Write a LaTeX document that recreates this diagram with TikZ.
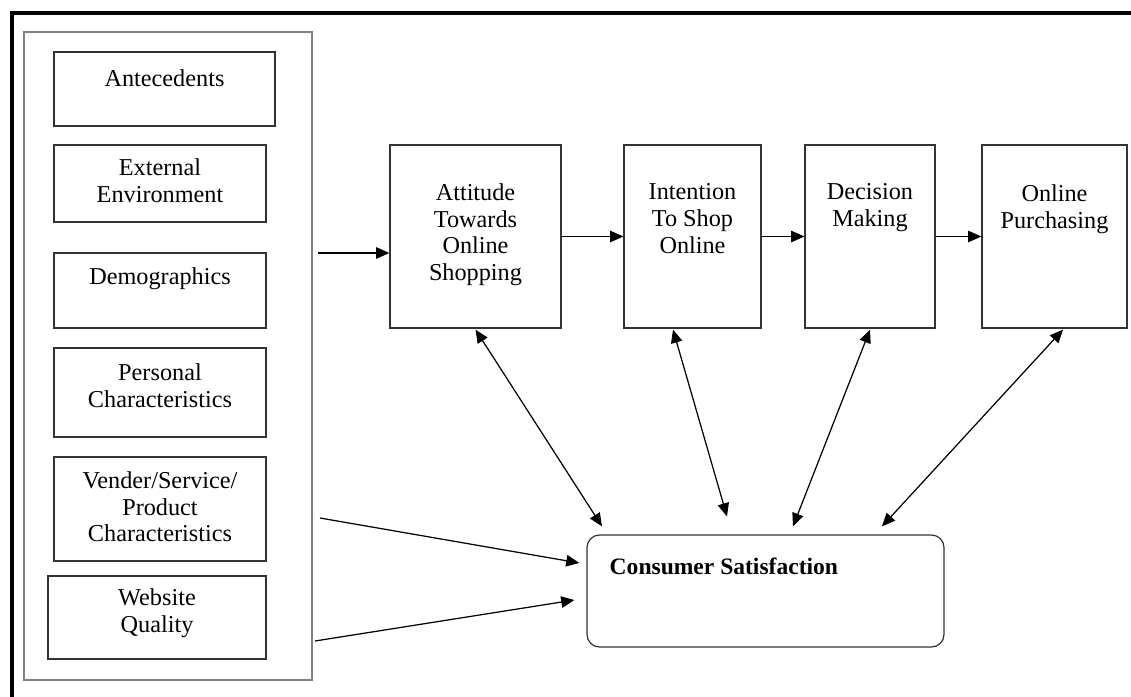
\documentclass[tikz,border=0pt]{standalone}
\usepackage{fontspec}
\setmainfont{Liberation Serif}
\usetikzlibrary{positioning,arrows.meta}

\tikzset{
  box/.style={draw=black!80, line width=0.7pt, inner sep=0pt},
  txt/.style={font=\fontsize{13.8}{15.2}\selectfont, align=center, inner sep=0pt},
  arr/.style={line width=0.7pt, -{Triangle[length=7.5pt,width=6.5pt]}},
  darr/.style={line width=0.7pt, {Triangle[length=7.5pt,width=6.5pt]}-{Triangle[length=7.5pt,width=6.5pt]}}
}

\begin{document}
\begin{tikzpicture}

        \useasboundingbox (0,0) rectangle (22.62,-13.94);

        %Frame
        \draw [line width=2.8pt] (0.24,-13.94) -- (0.24,-0.26) -- (22.62,-0.26);

        %Factors
        \node [box, draw=gray, line width=0.6pt, minimum width=5.76cm, minimum height=12.96cm] (factors) at (3.36,-7.12) {};
        \node [box, minimum width=4.42cm, minimum height=1.48cm] (ante) at (3.29,-1.78) {};
        \node [txt, below=0.36cm of ante.north] (ante-t) {Antecedents};
        \node [box, minimum width=4.24cm, minimum height=1.54cm] (env) at (3.2,-3.67) {};
        \node [txt, below=0.28cm of env.north] (env-t) {External\\Environment};
        \node [box, minimum width=4.24cm, minimum height=1.5cm] (demo) at (3.2,-5.81) {};
        \node [txt, below=0.3cm of demo.north] (demo-t) {Demographics};
        \node [box, minimum width=4.24cm, minimum height=1.78cm] (pers) at (3.2,-7.85) {};
        \node [txt, below=0.32cm of pers.north] (pers-t) {Personal\\Characteristics};
        \node [box, minimum width=4.24cm, minimum height=2.08cm] (vend) at (3.2,-10.18) {};
        \node [txt, below=0.3cm of vend.north] (vend-t) {Vender/Service/\\Product\\Characteristics};
        \node [box, minimum width=4.36cm, minimum height=1.66cm] (web) at (3.14,-12.35) {};
        \node [txt, below=0.26cm of web.north] (web-t) {Website\\Quality};

        %Stages
        \node [box, minimum width=3.42cm, minimum height=3.66cm] (att) at (9.51,-4.73) {};
        \node [txt, below=0.78cm of att.north] (att-t) {Attitude\\Towards\\Online\\Shopping};
        \node [box, minimum width=2.74cm, minimum height=3.66cm] (int) at (13.85,-4.73) {};
        \node [txt, below=0.78cm of int.north] (int-t) {Intention\\To Shop\\Online};
        \node [box, minimum width=2.6cm, minimum height=3.66cm] (dec) at (17.4,-4.73) {};
        \node [txt, below=0.78cm of dec.north] (dec-t) {Decision\\Making};
        \node [box, minimum width=2.9cm, minimum height=3.66cm] (pur) at (21.09,-4.73) {};
        \node [txt, below=0.8cm of pur.north] (pur-t) {Online\\Purchasing};

        %Consumer satisfaction
        \node [box, rounded corners=0.25cm, minimum width=7.14cm, minimum height=2.24cm] (cs) at (15.31,-11.82) {};
        \node [txt, font=\fontsize{13.4}{15}\selectfont\bfseries, below right=0.46cm and 0.46cm of cs.north west] (cs-t) {Consumer Satisfaction};

        %Arrows
        \coordinate (in1) at (6.36,-5.06);
        \coordinate (in2) at (6.4,-10.36);
        \coordinate (in3) at (6.3,-12.82);
        \draw [arr] (in1) -- (in1 -| att.west);
        \draw [arr] (att) -- (int);
        \draw [arr] (int) -- (dec);
        \draw [arr] (dec) -- (pur);
        \draw [arr] (in2) -- ([shift={(-0.14,0.56)}]cs.west);
        \draw [arr] (in3) -- ([shift={(-0.24,-0.18)}]cs.west);

        %Two way arrows
        \draw [darr] ([yshift=-0.02cm]att.south) -- ([shift={(-3.27,0.16)}]cs.north);
        \draw [darr] ([shift={(-0.39,-0.02)}]int.south) -- ([shift={(-0.77,0.36)}]cs.north);
        \draw [darr] ([yshift=-0.02cm]dec.south) -- ([shift={(0.55,0.16)}]cs.north);
        \draw [darr] ([shift={(0.17,-0.02)}]pur.south) -- ([shift={(2.33,0.16)}]cs.north);

\end{tikzpicture}
\end{document}
